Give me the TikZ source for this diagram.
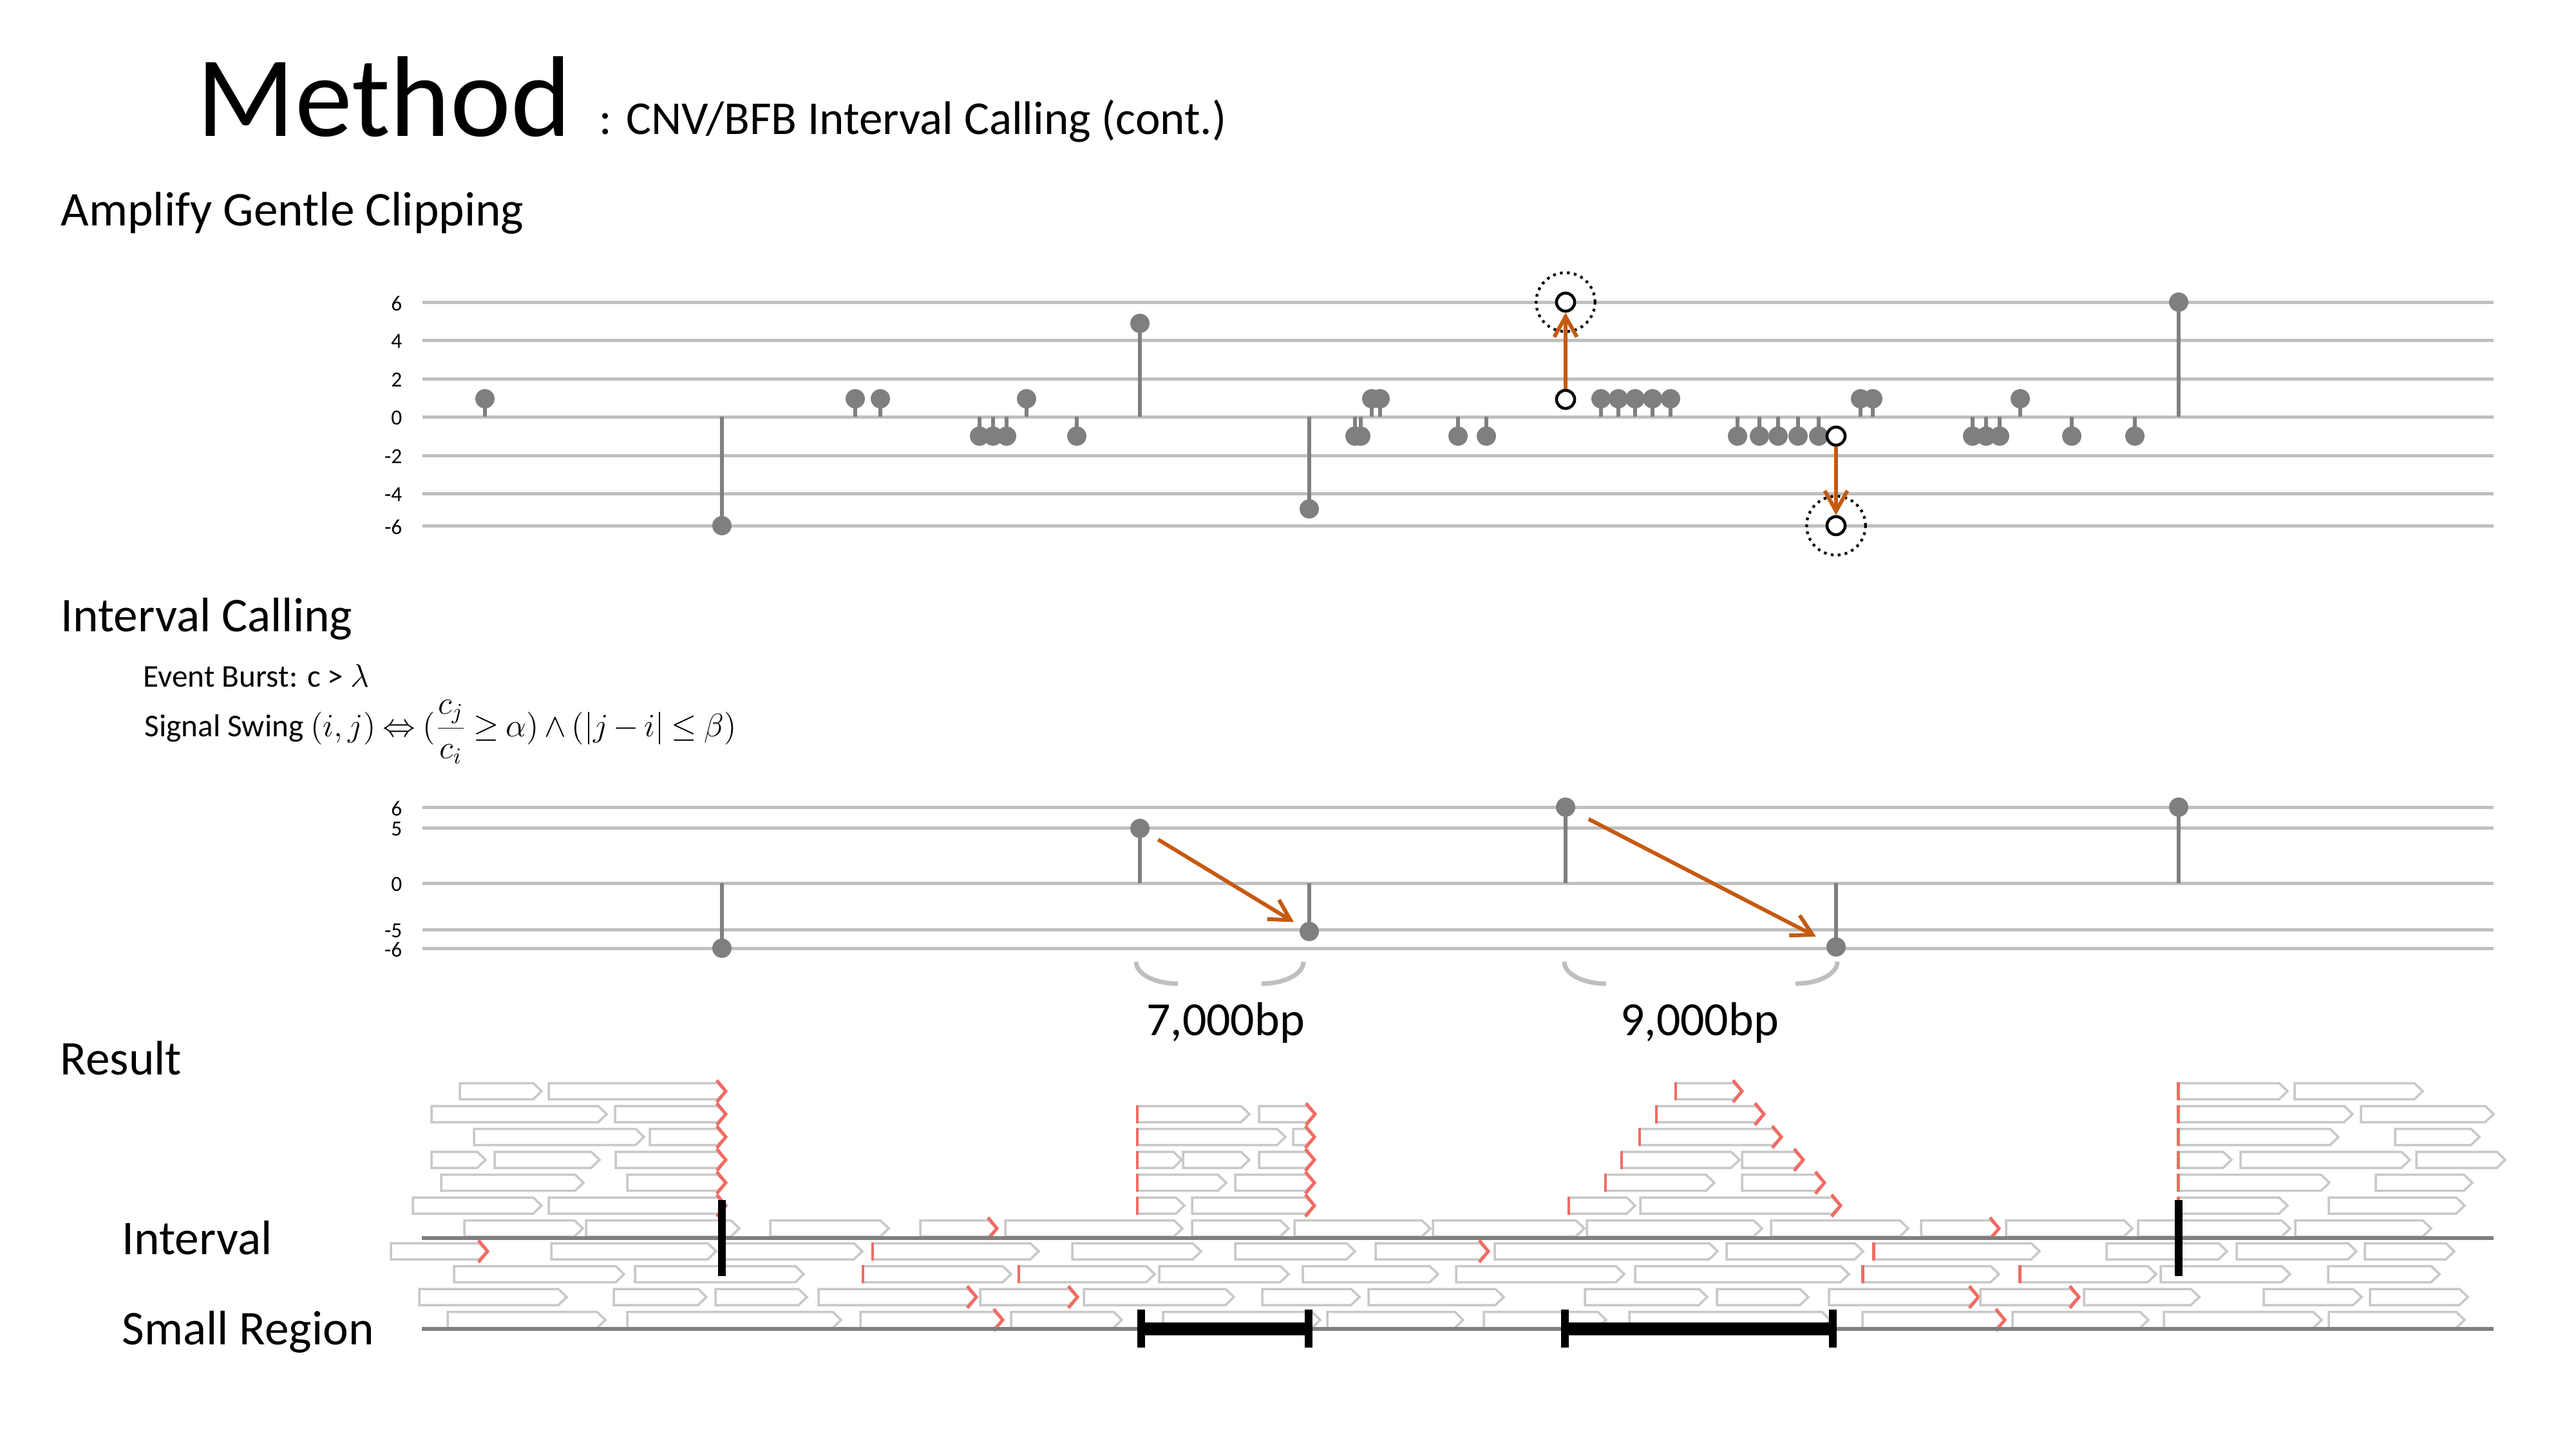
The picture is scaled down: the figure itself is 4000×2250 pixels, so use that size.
\documentclass[tikz,border=0pt]{standalone}
\usepackage{fontspec}
\setmainfont{Carlito}
\usetikzlibrary{arrows.meta}
\definecolor{gridc}{HTML}{BFBFBF}
\definecolor{stemc}{HTML}{7F7F7F}
\definecolor{readc}{HTML}{C8C8C8}
\definecolor{clipc}{HTML}{F26B63}
\definecolor{arrc}{HTML}{C55A11}
\tikzset{
  gridrule/.style={gridc, line width=1.42pt},
  stemline/.style={stemc, line width=1.7pt},
  headdot/.style={circle, fill=stemc, inner sep=0pt, minimum size=8.5pt},
  ticklab/.style={anchor=east, inner sep=0pt, font=\fontsize{9.5pt}{11pt}\selectfont},
  opencirc/.style={circle, draw=black, fill=white, line width=1.3pt, inner sep=0pt, minimum size=8pt},
  dotring/.style={circle, draw=black, line width=1.2pt, dash pattern=on 1.2pt off 1.9pt, inner sep=0pt, minimum size=26pt},
  orarrow/.style={arrc, line width=1.7pt, -{Straight Barb[length=9pt,width=10pt]}},
  readbox/.style={readc, line width=1pt, fill=white, line join=miter},
  clipmark/.style={clipc, line width=1.4pt},
  trackline/.style={stemc, line width=1.7pt},
  blackbar/.style={black, line width=3.4pt},
  spanarc/.style={gridc, line width=2pt},
  headtxt/.style={anchor=base west, inner sep=0pt, font=\fontsize{21.4pt}{25pt}\selectfont},
  smalltxt/.style={anchor=base west, inner sep=0pt, font=\fontsize{14pt}{17pt}\selectfont},
}
\begin{document}
\begin{tikzpicture}[x=0.01cm, y=-0.01cm]
\fill[white] (0,0) rectangle (4000,2250);
\useasboundingbox (0,0) rectangle (4000,2250);

% ---------- titles ----------
\node[anchor=base west, inner sep=0pt, font=\fontsize{50.7pt}{58pt}\selectfont] (title) at (305,211) {Method};
\node[anchor=base west, inner sep=0pt, font=\fontsize{20.8pt}{25pt}\selectfont] (subtitle) at (930,208) {: CNV/BFB Interval Calling (cont.)};
\node[headtxt] (secA) at (94,350) {Amplify Gentle Clipping};
\node[headtxt] (secB) at (94,980) {Interval Calling};
\node[smalltxt] (burst) at (222,1066) {Event Burst: c > $\lambda$};
\node[smalltxt] (swing) at (224,1143) {Signal Swing $\thickmuskip=4mu \medmuskip=3mu (i,j) \Leftrightarrow (\displaystyle\frac{c_j}{c_i} \geq \alpha) \wedge (|j-i| \leq \beta)$};
\node[headtxt] (secC) at (93,1668) {Result};
\node[headtxt] (lblint) at (189,1947) {Interval};
\node[headtxt] (lblsr) at (189,2087) {Small Region};

% ---------- chart 1 ----------
\foreach \v/\y in {6/469,4/528,2/588,0/647,-2/707,-4/766,-6/816} {
  \draw[gridrule] (656,\y) -- (3872,\y);
  \node[ticklab] (ta\y) at (625,\y+2) {\v};
}
\foreach \x in {753,1328,1367,1594,2130,2143,2486,2513,2539,2566,2594,2889,2908,3137} {
  \draw[stemline] (\x,647) -- (\x,619);
  \node[headdot] (tp\x) at (\x,619) {};
}
\foreach \x in {1521,1542,1563,1672,2104,2113,2264,2308,2698,2732,2761,2792,2824,3063,3084,3105,3217,3315} {
  \draw[stemline] (\x,647) -- (\x,677);
  \node[headdot] (tn\x) at (\x,677) {};
}
\foreach \x/\y in {1121/816,1770/502,2033/790,3383/469} {
  \draw[stemline] (\x,647) -- (\x,\y);
  \node[headdot] (tb\x) at (\x,\y) {};
}
\node[dotring] (ringA) at (2431,469) {};
\node[dotring] (ringB) at (2851,816) {};
\node[opencirc] (oa1) at (2431,620) {};
\node[opencirc] (oa2) at (2431,469) {};
\node[opencirc] (ob1) at (2851,677) {};
\node[opencirc] (ob2) at (2851,816) {};
\draw[orarrow] (oa1) -- (oa2);
\draw[orarrow] (ob1) -- (ob2);

% ---------- chart 2 ----------
\foreach \v/\y in {6/1253,5/1285,0/1371,-5/1443,-6/1472} {
  \draw[gridrule] (656,\y) -- (3872,\y);
  \node[ticklab] (tl\y) at (625,\y+2) {\v};
}
\foreach \x/\y in {1121/1472,1770/1286,2033/1446,2431/1253,2851/1470,3383/1253} {
  \draw[stemline] (\x,1371) -- (\x,\y);
  \node[headdot] (h\x) at (\x,\y) {};
}
\draw[orarrow, shorten <=5pt, shorten >=3.5pt] (h1770) -- (h2033);
\draw[orarrow, shorten <=7pt, shorten >=5.5pt] (h2431) -- (h2851);
\foreach \l/\r in {1764/2024,2429/2853} {
  \draw[spanarc] (\l,1493) .. controls (\l,1512) and (\l+29,1527) .. (\l+65,1527);
  \draw[spanarc] (\r,1493) .. controls (\r,1512) and (\r-29,1527) .. (\r-65,1527);
}
\node[anchor=base, inner sep=0pt, font=\fontsize{21pt}{25pt}\selectfont] (bp7) at (1903,1607) {7,000bp};
\node[anchor=base, inner sep=0pt, font=\fontsize{21pt}{25pt}\selectfont] (bp9) at (2639,1607) {9,000bp};

% ---------- result reads ----------
\foreach \r/\a/\b/\L/\R in {
0/714/841/0/0, 0/852/1127/0/1, 0/2602/2705/1/1, 0/3382/3552/1/0, 0/3563/3762/0/0,
1/670/942/0/0, 1/955/1127/0/1, 1/1766/1940/1/0, 1/1955/2042/0/1, 1/2572/2739/1/1, 1/3382/3653/1/0, 1/3666/3872/0/0,
2/736/1000/0/0, 2/1009/1127/0/1, 2/1766/1996/1/0, 2/2008/2041/0/1, 2/2546/2766/1/1, 2/3382/3631/1/0, 2/3719/3850/0/0,
3/670/754/0/0, 3/768/931/0/0, 3/956/1127/0/1, 3/1766/1835/1/0, 3/1837/1940/0/0, 3/1955/2041/0/1, 3/2518/2701/1/0, 3/2705/2800/0/1, 3/3382/3465/1/0, 3/3479/3742/0/0, 3/3752/3890/0/0,
4/685/906/0/0, 4/974/1127/0/1, 4/1766/1904/1/0, 4/1918/2041/0/1, 4/2493/2662/1/0, 4/2705/2833/0/1, 4/3382/3617/1/0, 4/3689/3839/0/0,
5/641/841/0/0, 5/852/1127/0/1, 5/1766/1839/1/0, 5/1851/2041/0/1, 5/2436/2539/1/0, 5/2547/2858/0/1, 5/3382/3552/1/0, 5/3616/3827/0/0,
6/721/905/0/0, 6/910/1148/0/0, 6/1196/1380/0/0, 6/1429/1548/0/1, 6/1561/1836/0/0, 6/1851/2001/0/0, 6/2010/2221/0/0, 6/2225/2460/0/0, 6/2464/2736/0/0, 6/2750/2963/0/0, 6/2983/3104/0/1, 6/3115/3311/0/0, 6/3320/3556/0/0, 6/3564/3775/0/0,
7/607/757/0/1, 7/856/1112/0/0, 7/1124/1339/0/0, 7/1355/1613/1/0, 7/1665/1865/0/0, 7/1918/2104/0/0, 7/2136/2311/0/1, 7/2321/2667/0/0, 7/2681/2893/0/0, 7/2909/3167/1/0, 7/3271/3458/0/0, 7/3473/3659/0/0, 7/3672/3811/0/0,
8/705/969/0/0, 8/986/1248/0/0, 8/1340/1570/1/0, 8/1582/1793/1/0, 8/1800/2001/0/0, 8/2023/2233/0/0, 8/2261/2522/0/0, 8/2539/2871/0/0, 8/2892/3104/1/0, 8/3136/3348/1/0, 8/3355/3556/0/0, 8/3615/3788/0/0,
9/651/880/0/0, 9/953/1097/0/0, 9/1111/1253/0/0, 9/1271/1516/0/1, 9/1522/1673/0/1, 9/1683/1916/0/0, 9/1960/2111/0/0, 9/2125/2335/0/0, 9/2461/2651/0/0, 9/2666/2808/0/0, 9/2840/3072/0/1, 9/3075/3228/0/1, 9/3236/3415/0/0, 9/3515/3667/0/0, 9/3680/3832/0/0,
10/695/940/0/0, 10/974/1306/0/0, 10/1336/1557/0/1, 10/1570/1742/0/0, 10/1806/2050/0/0, 10/2061/2272/0/0, 10/2304/2494/0/0, 10/2530/2842/0/0, 10/2892/3113/0/1, 10/3125/3336/0/0, 10/3360/3605/0/0, 10/3616/3827/0/0} {
  \pgfmathsetmacro{\cy}{1694+35.5*\r}
  \draw[readbox] (\a,\cy-12.5) -- (\b-13,\cy-12.5) -- (\b,\cy) -- (\b-13,\cy+12.5) -- (\a,\cy+12.5) -- cycle;
  \ifnum\R=1 \draw[clipmark] (\b-14,\cy-17) -- (\b,\cy) -- (\b-14,\cy+17); \fi
  \ifnum\L=1 \draw[clipmark] (\a,\cy-14) -- (\a,\cy+14); \fi
}

% ---------- tracks ----------
\coordinate (iS) at (655,1922);
\coordinate (iE) at (3872,1922);
\coordinate (sS) at (655,2063);
\coordinate (sE) at (3872,2063);
\draw[trackline] (iS) -- (iE);
\draw[trackline] (sS) -- (sE);
\foreach \x in {1121,3383} {
  \coordinate (bt\x) at (\x,1863);
  \coordinate (bb\x) at (\x,1981);
  \draw[blackbar] (bt\x) -- (bb\x);
}
\foreach \l/\r in {1772/2032,2430/2846} {
  \draw[black, line width=5.7pt] (\l,2063) -- (\r,2063);
  \draw[blackbar] (\l,2033) -- (\l,2092);
  \draw[blackbar] (\r,2033) -- (\r,2092);
}
\end{tikzpicture}
\end{document}
